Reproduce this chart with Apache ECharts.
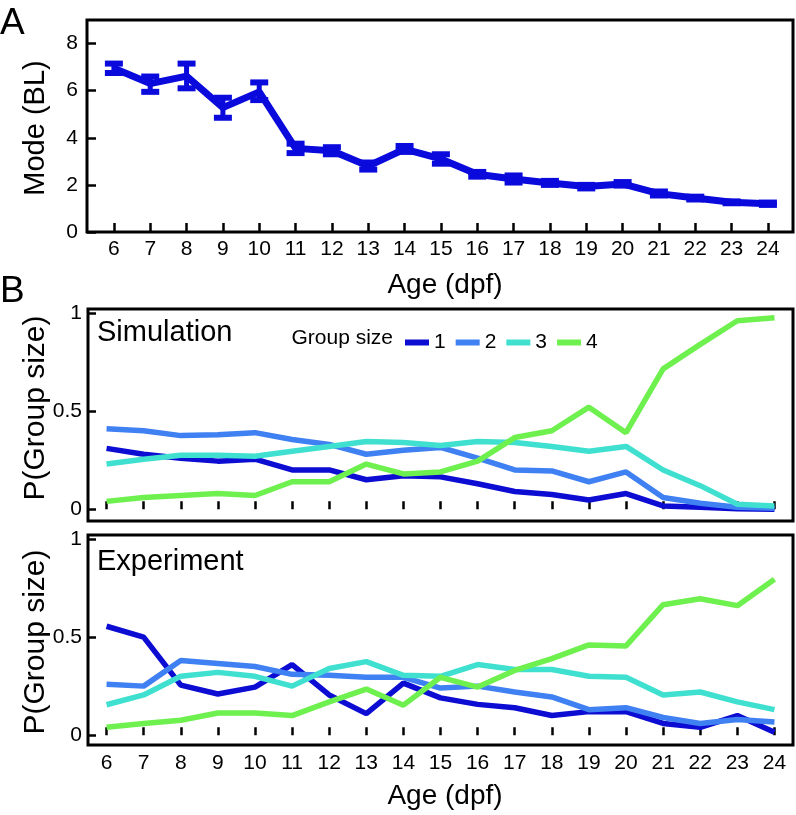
<!DOCTYPE html>
<html>
<head>
<meta charset="utf-8">
<script src="https://cdn.jsdelivr.net/npm/echarts@6/dist/echarts.min.js"></script>
<style>
html,body{margin:0;padding:0;background:#fff;}
#chart{width:796px;height:815px;}
</style>
</head>
<body>
<div id="chart"></div>
<script>
// ---- data ----
var ages = [6,7,8,9,10,11,12,13,14,15,16,17,18,19,20,21,22,23,24];
var modeMean = [6.95,6.3,6.62,5.28,5.95,3.55,3.45,2.8,3.52,3.1,2.45,2.25,2.08,1.93,2.04,1.63,1.44,1.26,1.2];
var modeLow  = [6.75,5.95,6.1,4.85,5.6,3.35,3.3,2.65,3.4,2.9,2.35,2.1,2.0,1.85,1.97,1.55,1.38,1.22,1.15];
var modeHigh = [7.15,6.6,7.15,5.7,6.35,3.75,3.6,2.95,3.65,3.3,2.55,2.4,2.17,2.0,2.12,1.72,1.5,1.3,1.25];

var sim1 = [0.31,0.28,0.26,0.245,0.255,0.20,0.20,0.15,0.17,0.165,0.13,0.09,0.075,0.047,0.08,0.017,0.01,0.003,0.0];
var sim2 = [0.41,0.40,0.375,0.38,0.39,0.355,0.33,0.28,0.30,0.315,0.26,0.20,0.195,0.14,0.19,0.06,0.03,0.01,0.005];
var sim3 = [0.23,0.255,0.275,0.275,0.27,0.295,0.32,0.345,0.34,0.325,0.345,0.34,0.32,0.295,0.32,0.20,0.12,0.025,0.017];
var sim4 = [0.04,0.06,0.07,0.08,0.07,0.14,0.14,0.23,0.18,0.19,0.245,0.365,0.40,0.52,0.39,0.715,0.84,0.96,0.975];

var exp1 = [0.555,0.50,0.255,0.21,0.245,0.36,0.205,0.11,0.265,0.19,0.157,0.14,0.10,0.12,0.12,0.06,0.04,0.10,0.015];
var exp2 = [0.26,0.25,0.38,0.365,0.35,0.31,0.305,0.295,0.295,0.24,0.25,0.22,0.195,0.13,0.14,0.09,0.06,0.08,0.067];
var exp3 = [0.155,0.205,0.30,0.32,0.30,0.25,0.34,0.375,0.305,0.30,0.36,0.335,0.335,0.30,0.295,0.205,0.22,0.17,0.13];
var exp4 = [0.04,0.06,0.076,0.113,0.113,0.10,0.17,0.235,0.153,0.295,0.245,0.33,0.39,0.46,0.455,0.665,0.695,0.66,0.795];

var groupNames = ['1','2','3','4'];
var modeTicks = [0,2,4,6,8];
var probTicks = [0,0.5,1];

// ---- styles ----
var FONT = 'Liberation Sans, Arial, Helvetica, sans-serif';
var colors = ['#0c0cd2','#3f80f2','#40e0d0','#6ef04e'];
var modeColor = '#0a0adc';

function pairs(ys){ return ages.map(function(a,i){ return [a, ys[i]]; }); }

function xAxisDef(gi, min, max, showLabels, margin, tickLen){
  return {
    type:'value', gridIndex:gi, min:min, max:max,
    axisLine:{show:false},
    splitLine:{show:false},
    axisTick:{show:true, inside:true, length:tickLen, customValues:ages, lineStyle:{color:'#000', width:2.5}},
    axisLabel:{show:showLabels, customValues:ages, margin:margin, color:'#000', fontSize:21, fontFamily:FONT}
  };
}
function yAxisDef(gi, min, max, ticks, margin, tickLen){
  return {
    type:'value', gridIndex:gi, min:min, max:max,
    axisLine:{show:false},
    splitLine:{show:false},
    axisTick:{show:true, inside:true, length:tickLen, customValues:ticks, lineStyle:{color:'#000', width:2.5}},
    axisLabel:{show:true, customValues:ticks, margin:margin, color:'#000', fontSize:21, fontFamily:FONT}
  };
}

var series = [];
// Panel A line
series.push({
  type:'line', xAxisIndex:0, yAxisIndex:0, data:pairs(modeMean),
  showSymbol:false, symbol:'none',
  lineStyle:{color:modeColor, width:7}, z:3, animation:false
});
// Panel A error bars
series.push({
  type:'custom', xAxisIndex:0, yAxisIndex:0,
  data: ages.map(function(a,i){ return [a, modeLow[i], modeHigh[i]]; }),
  renderItem:function(params, api){
    var x = api.value(0);
    var lo = api.coord([x, api.value(1)]);
    var hi = api.coord([x, api.value(2)]);
    var hw = 9;
    var st = {stroke:modeColor, lineWidth:6};
    return {type:'group', children:[
      {type:'line', shape:{x1:lo[0], y1:lo[1], x2:hi[0], y2:hi[1]}, style:{stroke:modeColor, lineWidth:5}},
      {type:'line', shape:{x1:lo[0]-hw, y1:lo[1], x2:lo[0]+hw, y2:lo[1]}, style:st},
      {type:'line', shape:{x1:hi[0]-hw, y1:hi[1], x2:hi[0]+hw, y2:hi[1]}, style:st}
    ]};
  },
  z:4, animation:false
});
var simSets = [sim1,sim2,sim3,sim4];
var expSets = [exp1,exp2,exp3,exp4];
simSets.forEach(function(s,i){
  series.push({type:'line', name:groupNames[i], xAxisIndex:1, yAxisIndex:1, data:pairs(s),
    showSymbol:false, symbol:'none', lineStyle:{color:colors[i], width:5.5}, itemStyle:{color:colors[i]}, z:3+i, animation:false});
});
expSets.forEach(function(s,i){
  series.push({type:'line', name:groupNames[i], xAxisIndex:2, yAxisIndex:2, data:pairs(s),
    showSymbol:false, symbol:'none', lineStyle:{color:colors[i], width:5.5}, itemStyle:{color:colors[i]}, z:3+i, animation:false});
});

var gridBase = {show:true, borderColor:'#000', borderWidth:3, backgroundColor:'transparent'};
var option = {
  animation:false,
  backgroundColor:'#fff',
  textStyle:{fontFamily:FONT},
  grid:[
    Object.assign({left:87, top:20, width:706, height:212}, gridBase),
    Object.assign({left:88, top:309, width:705, height:212}, gridBase),
    Object.assign({left:88, top:535, width:705, height:210}, gridBase)
  ],
  xAxis:[
    xAxisDef(0, 5.26, 24.69, true, 7, 9),
    xAxisDef(1, 5.5, 24.5, false, 8, 8),
    xAxisDef(2, 5.5, 24.5, true, 8, 8)
  ],
  yAxis:[
    yAxisDef(0, 0, 9, modeTicks, 9, 9),
    yAxisDef(1, -0.06, 1.02, probTicks, 6, 8),
    yAxisDef(2, -0.05, 1.02, probTicks, 6, 8)
  ],
  legend:{
    data:groupNames, left:400, top:327, orient:'horizontal',
    icon:'rect', itemWidth:24, itemHeight:6, itemGap:10,
    textStyle:{fontSize:21, color:'#000', fontFamily:FONT, padding:[0,0,0,0]},
    selectedMode:false
  },
  graphic:[
    {type:'text', left:0, top:5, style:{text:'A', font:'37px ' + FONT, fill:'#000'}},
    {type:'text', left:0, top:273, style:{text:'B', font:'37px ' + FONT, fill:'#000'}},
    {type:'text', x:445, y:285, style:{text:'Age (dpf)', font:'28px ' + FONT, fill:'#000', align:'center', verticalAlign:'middle'}},
    {type:'text', x:445, y:796, style:{text:'Age (dpf)', font:'28px ' + FONT, fill:'#000', align:'center', verticalAlign:'middle'}},
    {type:'text', x:36, y:128, rotation:Math.PI/2, style:{text:'Mode (BL)', font:'29px ' + FONT, fill:'#000', align:'center', verticalAlign:'middle'}},
    {type:'text', x:36, y:408, rotation:Math.PI/2, style:{text:'P(Group size)', font:'30px ' + FONT, fill:'#000', align:'center', verticalAlign:'middle'}},
    {type:'text', x:36, y:642, rotation:Math.PI/2, style:{text:'P(Group size)', font:'30px ' + FONT, fill:'#000', align:'center', verticalAlign:'middle'}},
    {type:'text', x:97, y:333, style:{text:'Simulation', font:'29px ' + FONT, fill:'#000', align:'left', verticalAlign:'middle'}},
    {type:'text', x:97, y:562, style:{text:'Experiment', font:'29px ' + FONT, fill:'#000', align:'left', verticalAlign:'middle'}},
    {type:'text', x:393, y:338, style:{text:'Group size', font:'21px ' + FONT, fill:'#000', align:'right', verticalAlign:'middle'}}
  ],
  series:series
};
var chart = echarts.init(document.getElementById('chart'), null, {renderer:'canvas'});
chart.setOption(option);
</script>
</body>
</html>
